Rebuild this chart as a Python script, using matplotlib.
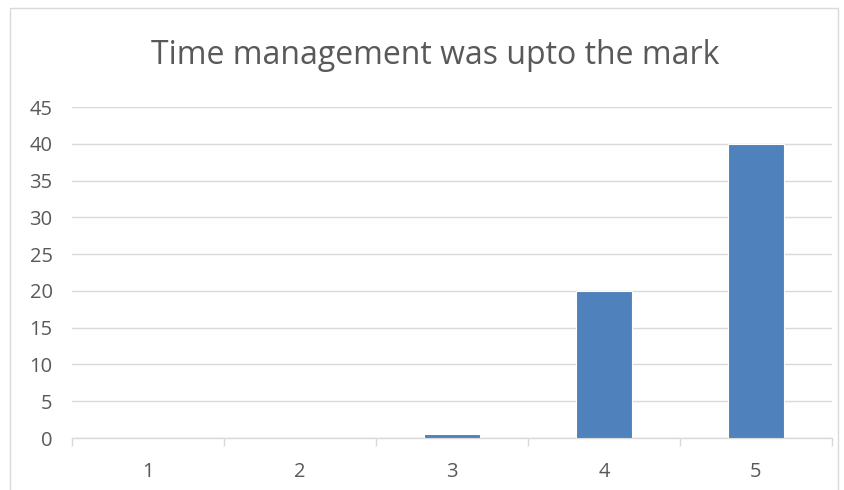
import matplotlib
matplotlib.use("Agg")
import matplotlib.pyplot as plt
from matplotlib.patches import Rectangle
from matplotlib.ticker import FixedLocator

categories = ["1", "2", "3", "4", "5"]
values = [0, 0, 0.6, 20, 40]
yticks = [0, 5, 10, 15, 20, 25, 30, 35, 40, 45]
title = "Time management was upto the mark"

plt.rcParams['font.family'] = ['Open Sans', 'DejaVu Sans']
txt = '#595959'
grid = '#d9d9d9'

fig = plt.figure(figsize=(8.45, 4.9), dpi=100)
fig.patches.append(Rectangle((10/845, -0.01), 828/845, 1 - 8/490 + 0.01, transform=fig.transFigure,
                             fill=False, edgecolor=grid, linewidth=1.0))
ax = fig.add_axes([72/845, 1 - 438/490, (832 - 72)/845, (438 - 107)/490])
x = list(range(len(categories)))
ax.bar(x, values, width=0.37, color='#4f81bd', edgecolor='white', linewidth=0.8, zorder=3)
ax.set_xlim(-0.5, len(categories) - 0.5)
ax.set_ylim(0, 45)
ax.set_yticks(yticks)
ax.set_xticks(x)
ax.set_xticklabels(categories)
ax.xaxis.set_minor_locator(FixedLocator([i - 0.5 for i in range(len(categories) + 1)]))
ax.tick_params(axis='x', which='major', length=0, pad=17, labelsize=14.5, labelcolor=txt)
ax.tick_params(axis='x', which='minor', length=6, color=grid, width=1)
ax.tick_params(axis='y', length=0, pad=14, labelsize=14.5, labelcolor=txt)
ax.yaxis.grid(True, color=grid, linewidth=1, zorder=0)
for s in ['top', 'right', 'left']:
    ax.spines[s].set_visible(False)
ax.spines['bottom'].set_color(grid)
ax.spines['bottom'].set_linewidth(1)
fig.text(435/845, 1 - 55/490, title, ha='center', va='center', fontsize=23, color=txt)
fig.savefig('out.png', dpi=100)
